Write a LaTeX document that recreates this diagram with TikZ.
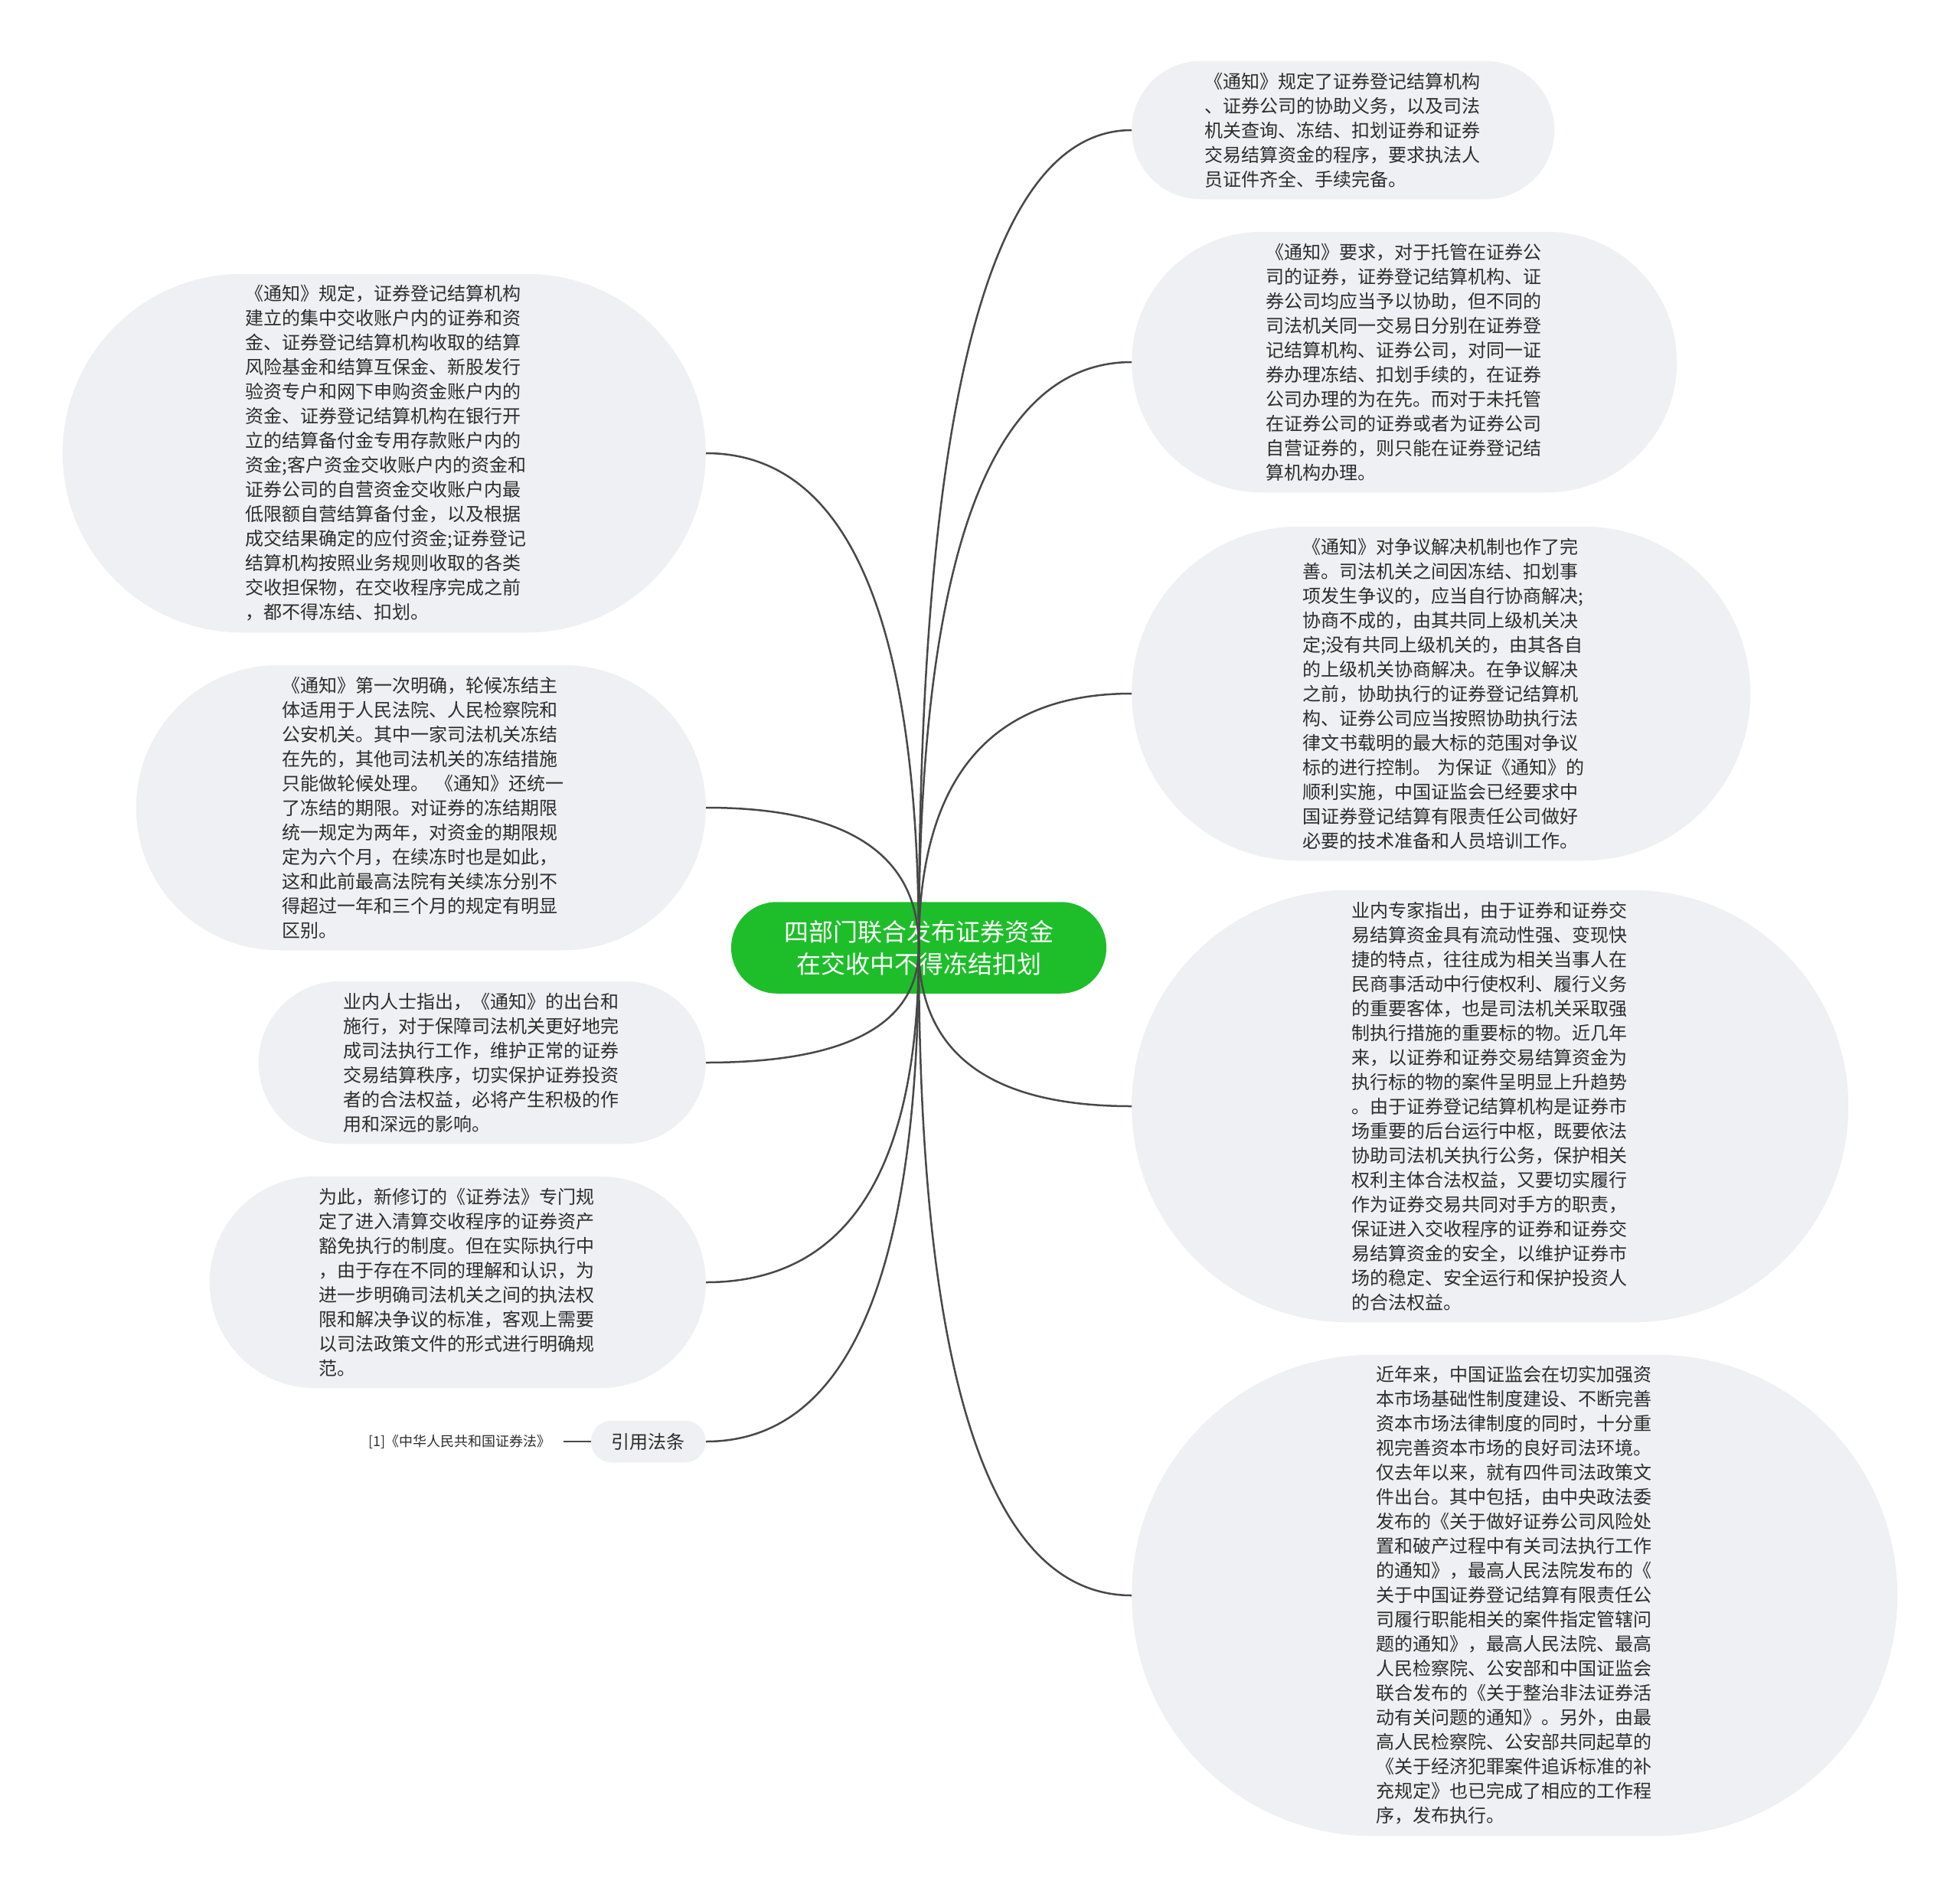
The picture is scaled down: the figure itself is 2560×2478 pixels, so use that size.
\documentclass[tikz,border=0pt]{standalone}
\usepackage{fontspec}
\setmainfont{Noto Sans CJK SC}
\definecolor{bub}{RGB}{238,240,243}
\definecolor{grn}{RGB}{30,190,42}
\definecolor{txt}{RGB}{45,45,45}
\definecolor{lnk}{RGB}{72,72,72}
\tikzset{
  bubble/.style={shape=rectangle, fill=bub, text=txt, align=left,
    text width=362pt, inner xsep=#1+5pt, inner ysep=14pt,
    rounded corners=#1, minimum height=2*#1+0.5pt,
    font=\fontsize{24}{32}\selectfont},
  rootbox/.style={shape=rectangle, fill=grn, text=white, align=center,
    inner xsep=69pt, inner ysep=22pt, rounded corners=59.5pt,
    minimum height=119.5pt, font=\fontsize{32}{42}\selectfont},
  citebox/.style={shape=rectangle, fill=bub, text=txt,
    inner xsep=27pt, inner ysep=14pt, rounded corners=27pt,
    minimum height=54.5pt, font=\fontsize{24}{32}\selectfont},
  citetxt/.style={text=txt, inner xsep=16pt, font=\fontsize{18}{22}\selectfont},
  link/.style={draw=lnk, line width=2.5pt},
}
\begin{document}
\begin{tikzpicture}[x=1pt,y=-1pt]
\fill[white] (0,0) rectangle (2560,2478);
\useasboundingbox (0,0) rectangle (2560,2478);

\node[rootbox] (root) at (1200,1238) {四部门联合发布证券资金\\在交收中不得冻结扣划};

\node[bubble=90pt, anchor=west] (r1) at (1478,170) {《通知》规定了证券登记结算机构\\、证券公司的协助义务，以及司法\\机关查询、冻结、扣划证券和证券\\交易结算资金的程序，要求执法人\\员证件齐全、手续完备。};

\node[bubble=170pt, anchor=west] (r2) at (1478,473) {《通知》要求，对于托管在证券公\\司的证券，证券登记结算机构、证\\券公司均应当予以协助，但不同的\\司法机关同一交易日分别在证券登\\记结算机构、证券公司，对同一证\\券办理冻结、扣划手续的，在证券\\公司办理的为在先。而对于未托管\\在证券公司的证券或者为证券公司\\自营证券的，则只能在证券登记结\\算机构办理。};

\node[bubble=218pt, anchor=west] (r3) at (1478,906) {《通知》对争议解决机制也作了完\\善。司法机关之间因冻结、扣划事\\项发生争议的，应当自行协商解决;\\协商不成的，由其共同上级机关决\\定;没有共同上级机关的，由其各自\\的上级机关协商解决。在争议解决\\之前，协助执行的证券登记结算机\\构、证券公司应当按照协助执行法\\律文书载明的最大标的范围对争议\\标的进行控制。~为保证《通知》的\\顺利实施，中国证监会已经要求中\\国证券登记结算有限责任公司做好\\必要的技术准备和人员培训工作。};

\node[bubble=282pt, anchor=west] (r4) at (1478,1445) {业内专家指出，由于证券和证券交\\易结算资金具有流动性强、变现快\\捷的特点，往往成为相关当事人在\\民商事活动中行使权利、履行义务\\的重要客体，也是司法机关采取强\\制执行措施的重要标的物。近几年\\来，以证券和证券交易结算资金为\\执行标的物的案件呈明显上升趋势\\。由于证券登记结算机构是证券市\\场重要的后台运行中枢，既要依法\\协助司法机关执行公务，保护相关\\权利主体合法权益，又要切实履行\\作为证券交易共同对手方的职责，\\保证进入交收程序的证券和证券交\\易结算资金的安全，以维护证券市\\场的稳定、安全运行和保护投资人\\的合法权益。};

\node[bubble=314pt, anchor=west] (r5) at (1478,2084) {近年来，中国证监会在切实加强资\\本市场基础性制度建设、不断完善\\资本市场法律制度的同时，十分重\\视完善资本市场的良好司法环境。\\仅去年以来，就有四件司法政策文\\件出台。其中包括，由中央政法委\\发布的《关于做好证券公司风险处\\置和破产过程中有关司法执行工作\\的通知》，最高人民法院发布的《\\关于中国证券登记结算有限责任公\\司履行职能相关的案件指定管辖问\\题的通知》，最高人民法院、最高\\人民检察院、公安部和中国证监会\\联合发布的《关于整治非法证券活\\动有关问题的通知》。另外，由最\\高人民检察院、公安部共同起草的\\《关于经济犯罪案件追诉标准的补\\充规定》也已完成了相应的工作程\\序，发布执行。};

\node[bubble=234pt, anchor=east] (l1) at (922,592) {《通知》规定，证券登记结算机构\\建立的集中交收账户内的证券和资\\金、证券登记结算机构收取的结算\\风险基金和结算互保金、新股发行\\验资专户和网下申购资金账户内的\\资金、证券登记结算机构在银行开\\立的结算备付金专用存款账户内的\\资金;客户资金交收账户内的资金和\\证券公司的自营资金交收账户内最\\低限额自营结算备付金，以及根据\\成交结果确定的应付资金;证券登记\\结算机构按照业务规则收取的各类\\交收担保物，在交收程序完成之前\\，都不得冻结、扣划。};

\node[bubble=186pt, anchor=east] (l2) at (922,1055) {《通知》第一次明确，轮候冻结主\\体适用于人民法院、人民检察院和\\公安机关。其中一家司法机关冻结\\在先的，其他司法机关的冻结措施\\只能做轮候处理。~《通知》还统一\\了冻结的期限。对证券的冻结期限\\统一规定为两年，对资金的期限规\\定为六个月，在续冻时也是如此，\\这和此前最高法院有关续冻分别不\\得超过一年和三个月的规定有明显\\区别。};

\node[bubble=106pt, anchor=east] (l3) at (922,1388) {业内人士指出，《通知》的出台和\\施行，对于保障司法机关更好地完\\成司法执行工作，维护正常的证券\\交易结算秩序，切实保护证券投资\\者的合法权益，必将产生积极的作\\用和深远的影响。};

\node[bubble=138pt, anchor=east] (l4) at (922,1675) {为此，新修订的《证券法》专门规\\定了进入清算交收程序的证券资产\\豁免执行的制度。但在实际执行中\\，由于存在不同的理解和认识，为\\进一步明确司法机关之间的执法权\\限和解决争议的标准，客观上需要\\以司法政策文件的形式进行明确规\\范。};

\node[citebox, anchor=east] (cite) at (922,1883) {引用法条};
\node[citetxt, anchor=east] (citetext) at (736,1883) {[1]《中华人民共和国证券法》};

\draw[link] (root.center) .. controls +(0,-712) and +(-185,0) .. (r1.west);
\draw[link] (root.center) .. controls +(0,-510) and +(-185,0) .. (r2.west);
\draw[link] (root.center) .. controls +(0,-221) and +(-185,0) .. (r3.west);
\draw[link] (root.center) .. controls +(0,138) and +(-185,0) .. (r4.west);
\draw[link] (root.center) .. controls +(0,564) and +(-185,0) .. (r5.west);
\draw[link] (root.center) .. controls +(0,-431) and +(185,0) .. (l1.east);
\draw[link] (root.center) .. controls +(0,-122) and +(185,0) .. (l2.east);
\draw[link] (root.center) .. controls +(0,100) and +(185,0) .. (l3.east);
\draw[link] (root.center) .. controls +(0,291) and +(185,0) .. (l4.east);
\draw[link] (root.center) .. controls +(0,430) and +(185,0) .. (cite.east);
\draw[link] (cite.west) -- (citetext.east);
\end{tikzpicture}
\end{document}
